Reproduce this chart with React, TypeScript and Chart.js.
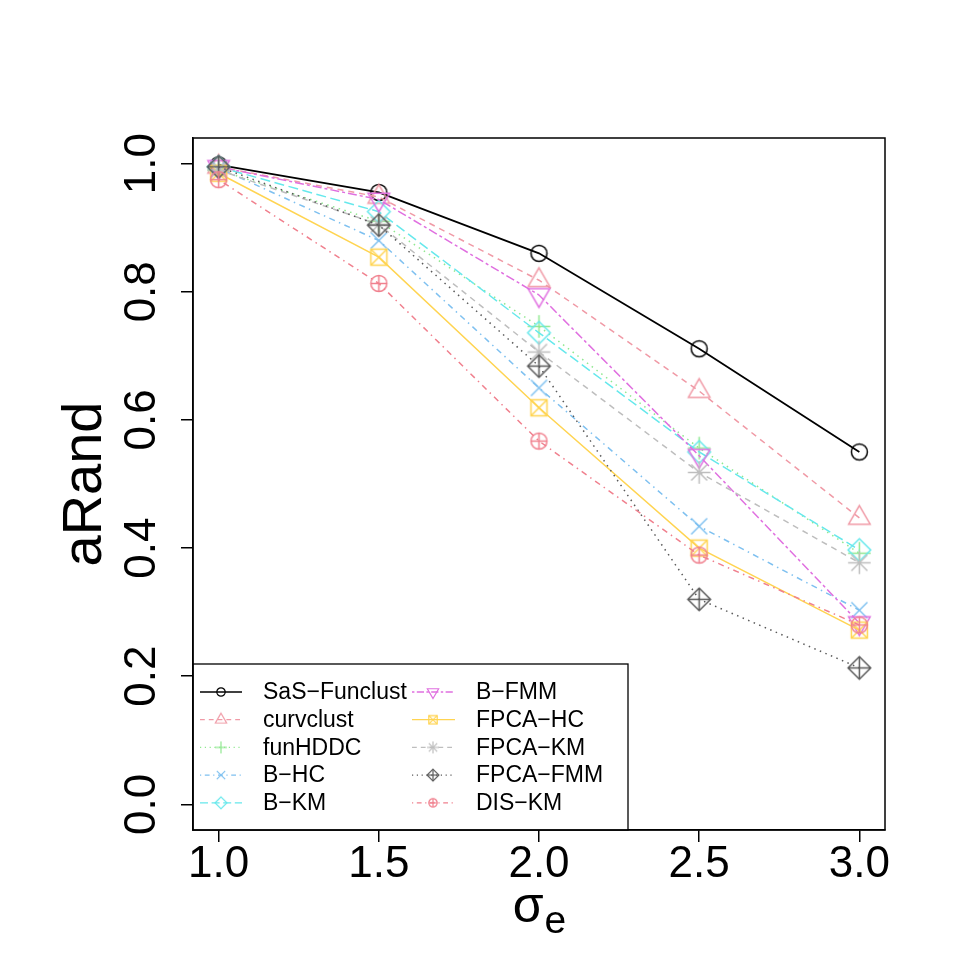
import React, { useEffect, useRef } from "react";
import { Chart, registerables } from "chart.js";

Chart.register(...registerables);

// ---------- data ----------
const sigmaE = [1.0, 1.5, 2.0, 2.5, 3.0];
const xTickValues = [1.0, 1.5, 2.0, 2.5, 3.0];
const yTickValues = [0.0, 0.2, 0.4, 0.6, 0.8, 1.0];

const methodNames = [
  "SaS\u2212Funclust",
  "curvclust",
  "funHDDC",
  "B\u2212HC",
  "B\u2212KM",
  "B\u2212FMM",
  "FPCA\u2212HC",
  "FPCA\u2212KM",
  "FPCA\u2212FMM",
  "DIS\u2212KM",
];

const sasFunclust = [0.998, 0.955, 0.86, 0.711, 0.55];
const curvclust = [0.995, 0.948, 0.818, 0.645, 0.447];
const funHDDC = [0.99, 0.91, 0.746, 0.556, 0.392];
const bHC = [0.993, 0.88, 0.65, 0.434, 0.303];
const bKM = [0.995, 0.925, 0.736, 0.55, 0.397];
const bFMM = [0.995, 0.944, 0.795, 0.544, 0.283];
const fpcaHC = [0.985, 0.854, 0.619, 0.4, 0.272];
const fpcaKM = [0.99, 0.905, 0.706, 0.518, 0.377];
const fpcaFMM = [0.995, 0.904, 0.684, 0.32, 0.213];
const disKM = [0.975, 0.813, 0.567, 0.389, 0.28];

const seriesValues = [
  sasFunclust,
  curvclust,
  funHDDC,
  bHC,
  bKM,
  bFMM,
  fpcaHC,
  fpcaKM,
  fpcaFMM,
  disKM,
];

// ---------- styles ----------
const seriesColors = [
  "#000000",
  "#F09AA6",
  "#90E890",
  "#7EC0F0",
  "#66E8EC",
  "#E070E0",
  "#FFD451",
  "#BEBEBE",
  "#5A5A5A",
  "#F0808E",
];
const seriesDashes = [
  [],
  [6, 5],
  [1.5, 4.5],
  [1.5, 4.5, 6, 4.5],
  [10, 4.5],
  [3, 3, 9, 3],
  [],
  [6, 5],
  [1.5, 4.5],
  [1.5, 4.5, 6, 4.5],
];
const seriesPch = [1, 2, 3, 4, 5, 6, 7, 8, 9, 10];

const FONT = '"Liberation Sans", Arial, Helvetica, sans-serif';

function makeMarker(pch: number, color: string, s: number, lw: number) {
  const size = Math.ceil(s * 3.6 + 4);
  const c = document.createElement("canvas");
  c.width = size;
  c.height = size;
  const ctx = c.getContext("2d") as CanvasRenderingContext2D;
  const cx = size / 2;
  const cy = size / 2;
  ctx.strokeStyle = color;
  ctx.lineWidth = lw;
  ctx.lineJoin = "miter";
  const line = (x1: number, y1: number, x2: number, y2: number) => {
    ctx.beginPath();
    ctx.moveTo(cx + x1, cy + y1);
    ctx.lineTo(cx + x2, cy + y2);
    ctx.stroke();
  };
  const poly = (pts: number[][]) => {
    ctx.beginPath();
    pts.forEach((p, i) => (i ? ctx.lineTo(cx + p[0], cy + p[1]) : ctx.moveTo(cx + p[0], cy + p[1])));
    ctx.closePath();
    ctx.stroke();
  };
  const circle = (r: number) => {
    ctx.beginPath();
    ctx.arc(cx, cy, r, 0, Math.PI * 2);
    ctx.stroke();
  };
  const r2 = Math.SQRT2 * s;
  const tr = 1.5551 * s;
  const txc = 1.3468 * s;
  const tyc = 0.7776 * s;
  switch (pch) {
    case 1:
      circle(s);
      break;
    case 2:
      poly([[0, -tr], [txc, tyc], [-txc, tyc]]);
      break;
    case 3:
      line(-r2, 0, r2, 0);
      line(0, -r2, 0, r2);
      break;
    case 4:
      line(-s, -s, s, s);
      line(-s, s, s, -s);
      break;
    case 5:
      poly([[0, -r2], [r2, 0], [0, r2], [-r2, 0]]);
      break;
    case 6:
      poly([[0, tr], [txc, -tyc], [-txc, -tyc]]);
      break;
    case 7:
      poly([[-s, -s], [s, -s], [s, s], [-s, s]]);
      line(-s, -s, s, s);
      line(-s, s, s, -s);
      break;
    case 8:
      line(-s, -s, s, s);
      line(-s, s, s, -s);
      line(-r2, 0, r2, 0);
      line(0, -r2, 0, r2);
      break;
    case 9:
      poly([[0, -r2], [r2, 0], [0, r2], [-r2, 0]]);
      line(-r2, 0, r2, 0);
      line(0, -r2, 0, r2);
      break;
    case 10:
      circle(s);
      line(-s, 0, s, 0);
      line(0, -s, 0, s);
      break;
  }
  return c;
}

export default function App() {
  const canvasRef = useRef<HTMLCanvasElement | null>(null);

  useEffect(() => {
    const canvas = canvasRef.current;
    if (!canvas) return;

    const bigMarkers = seriesPch.map((p, i) => makeMarker(p, seriesColors[i], 8, 1.5));
    const smallMarkers = seriesPch.map((p, i) => makeMarker(p, seriesColors[i], 4.2, 1.2));

    const decorPlugin = {
      id: "decor",
      afterDraw(chart: any) {
        const { ctx, chartArea: a } = chart;
        ctx.save();

        // legend
        const lx0 = a.left;
        const ly0 = 664;
        const lx1 = 628;
        const ly1 = a.bottom;
        ctx.fillStyle = "#fff";
        ctx.fillRect(lx0, ly0, lx1 - lx0, ly1 - ly0);
        ctx.strokeStyle = "#000";
        ctx.lineWidth = 1.3;
        ctx.strokeRect(lx0, ly0, lx1 - lx0, ly1 - ly0);
        const cols = [
          { l0: 200, l1: 242, m: 221, t: 263 },
          { l0: 412, l1: 455, m: 433, t: 476 },
        ];
        ctx.font = "23px " + FONT;
        ctx.textBaseline = "middle";
        ctx.textAlign = "left";
        methodNames.forEach((name, i) => {
          const col = cols[Math.floor(i / 5)];
          const y = 692 + (i % 5) * 27.7;
          ctx.strokeStyle = seriesColors[i];
          ctx.lineWidth = 1.3;
          ctx.setLineDash(seriesDashes[i].map((d) => d * 0.8));
          ctx.beginPath();
          ctx.moveTo(col.l0, y);
          ctx.lineTo(col.l1, y);
          ctx.stroke();
          ctx.setLineDash([]);
          const mk = smallMarkers[i];
          ctx.drawImage(mk, col.m - mk.width / 2, y - mk.height / 2);
          ctx.fillStyle = "#000";
          ctx.fillText(name, col.t, y + 1);
        });

        // plot box
        ctx.strokeStyle = "#000";
        ctx.lineWidth = 1.5;
        ctx.strokeRect(a.left, a.top, a.right - a.left, a.bottom - a.top);

        // x axis title sigma_e
        const cx = (a.left + a.right) / 2;
        ctx.fillStyle = "#000";
        ctx.textBaseline = "alphabetic";
        ctx.textAlign = "left";
        ctx.font = "50px " + FONT;
        const ws = ctx.measureText("\u03C3").width;
        ctx.font = "39px " + FONT;
        const we = ctx.measureText("e").width;
        const start = cx - (ws + we) / 2;
        ctx.font = "50px " + FONT;
        ctx.fillText("\u03C3", start, a.bottom + 92);
        ctx.font = "39px " + FONT;
        ctx.fillText("e", start + ws + 1, a.bottom + 103);

        ctx.restore();
      },
    };

    const chart = new Chart(canvas, {
      type: "line",
      data: {
        datasets: seriesValues.map((vals, i) => ({
          label: methodNames[i],
          data: vals.map((v, j) => ({ x: sigmaE[j], y: v })),
          borderColor: seriesColors[i],
          backgroundColor: seriesColors[i],
          borderWidth: i === 0 ? 1.8 : 1.5,
          borderDash: seriesDashes[i],
          pointStyle: bigMarkers[i] as any,
          pointRadius: 8,
          pointHoverRadius: 8,
          tension: 0,
          fill: false,
          order: seriesValues.length - i,
        })),
      },
      options: {
        responsive: false,
        animation: false,
        events: [],
        devicePixelRatio: 1,
        layout: { padding: { left: 0, top: 138, right: 84, bottom: 0 } },
        plugins: {
          legend: { display: false },
          tooltip: { enabled: false },
        },
        scales: {
          x: {
            type: "linear",
            min: 0.92,
            max: 3.08,
            afterBuildTicks: (scale: any) => {
              scale.ticks = xTickValues.map((v) => ({ value: v }));
            },
            afterFit: (scale: any) => {
              scale.height = 139;
            },
            ticks: {
              color: "#000",
              font: { size: 44, family: FONT },
              padding: -4,
              maxRotation: 0,
              minRotation: 0,
              autoSkip: false,
              callback: (v: any) => Number(v).toFixed(1),
            },
            grid: {
              display: true,
              drawOnChartArea: false,
              drawTicks: true,
              tickLength: 12,
              color: "#000",
              lineWidth: 1.5,
            },
            border: { display: true, color: "#000", width: 1.5 },
            title: { display: false },
          },
          y: {
            type: "linear",
            min: -0.04,
            max: 1.04,
            afterBuildTicks: (scale: any) => {
              scale.ticks = yTickValues.map((v) => ({ value: v }));
            },
            afterFit: (scale: any) => {
              scale.width = 193;
            },
            ticks: {
              color: "#000",
              font: { size: 44, family: FONT },
              padding: 7.4,
              minRotation: 90,
              maxRotation: 90,
              crossAlign: "center",
              autoSkip: false,
              callback: (v: any) => Number(v).toFixed(1),
            },
            grid: {
              display: true,
              drawOnChartArea: false,
              drawTicks: true,
              tickLength: 12,
              color: "#000",
              lineWidth: 1.5,
            },
            border: { display: true, color: "#000", width: 1.5 },
            title: {
              display: true,
              text: "aRand",
              color: "#000",
              font: { size: 56, family: FONT },
              padding: { top: 52, bottom: 0 },
            },
          },
        },
      },
      plugins: [decorPlugin],
    } as any);

    return () => {
      chart.destroy();
    };
  }, []);

  return (
    <div style={{ position: "absolute", left: 0, top: 0, width: 969, height: 969, background: "#fff" }}>
      <canvas ref={canvasRef} width={969} height={969} style={{ display: "block" }} />
    </div>
  );
}
